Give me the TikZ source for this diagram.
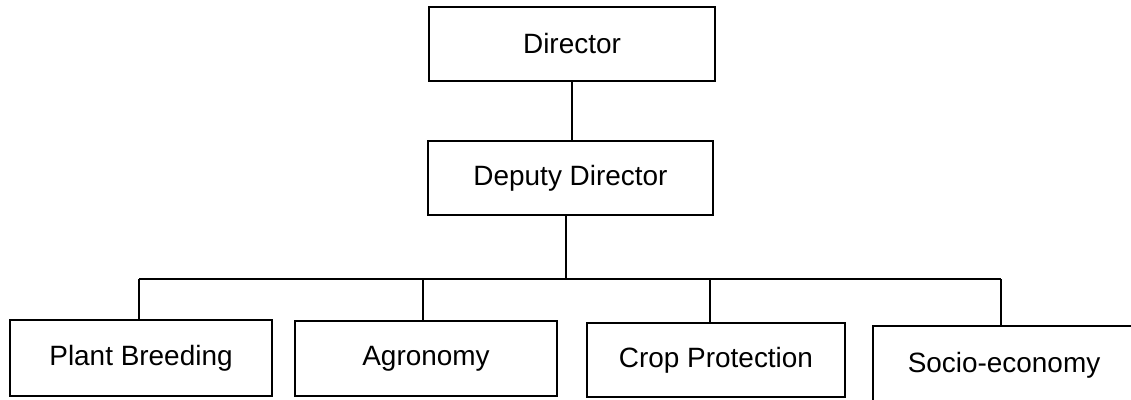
\documentclass[tikz,border=0pt]{standalone}
\usepackage{fontspec}
\setmainfont{Liberation Sans}
\begin{document}
\begin{tikzpicture}[x=0.02cm,y=-0.02cm,
  orgbox/.style={draw=black, line width=1.4pt, inner sep=0pt, align=center,
    font=\fontsize{15.9pt}{19pt}\selectfont},
  link/.style={draw=black, line width=1.4pt}]
\useasboundingbox (0,0) rectangle (1131,399);
\fill[white] (0,0) rectangle (1131,399);
\node[orgbox, minimum width=5.72cm, minimum height=1.48cm] (dir) at (572,44) {Director};
\node[orgbox, minimum width=5.70cm, minimum height=1.48cm] (dep) at (570.5,178) {Deputy Director};
\node[orgbox, minimum width=5.24cm, minimum height=1.52cm] (pb) at (141,358) {Plant Breeding};
\node[orgbox, minimum width=5.24cm, minimum height=1.50cm] (agr) at (426,358.5) {Agronomy};
\node[orgbox, minimum width=5.16cm, minimum height=1.48cm] (cp) at (716,360) {Crop Protection};
\node[orgbox, minimum width=5.24cm, minimum height=1.56cm] (se) at (1004,365) {Socio-economy};
\coordinate (b1) at (139,279);
\coordinate (b2) at (423,279);
\coordinate (b3) at (710,279);
\coordinate (b4) at (1001,279);
\draw[link] (dir.south) -- (dir.south |- dep.north);
\draw[link] ([xshift=-0.09cm]dep.south) -- ([xshift=-0.09cm]dep.south |- b1);
\draw[link] (b1) -- (b4);
\draw[link] (b1) -- (b1 |- pb.north);
\draw[link] (b2) -- (b2 |- agr.north);
\draw[link] (b3) -- (b3 |- cp.north);
\draw[link] (b4) -- (b4 |- se.north);
\end{tikzpicture}
\end{document}
